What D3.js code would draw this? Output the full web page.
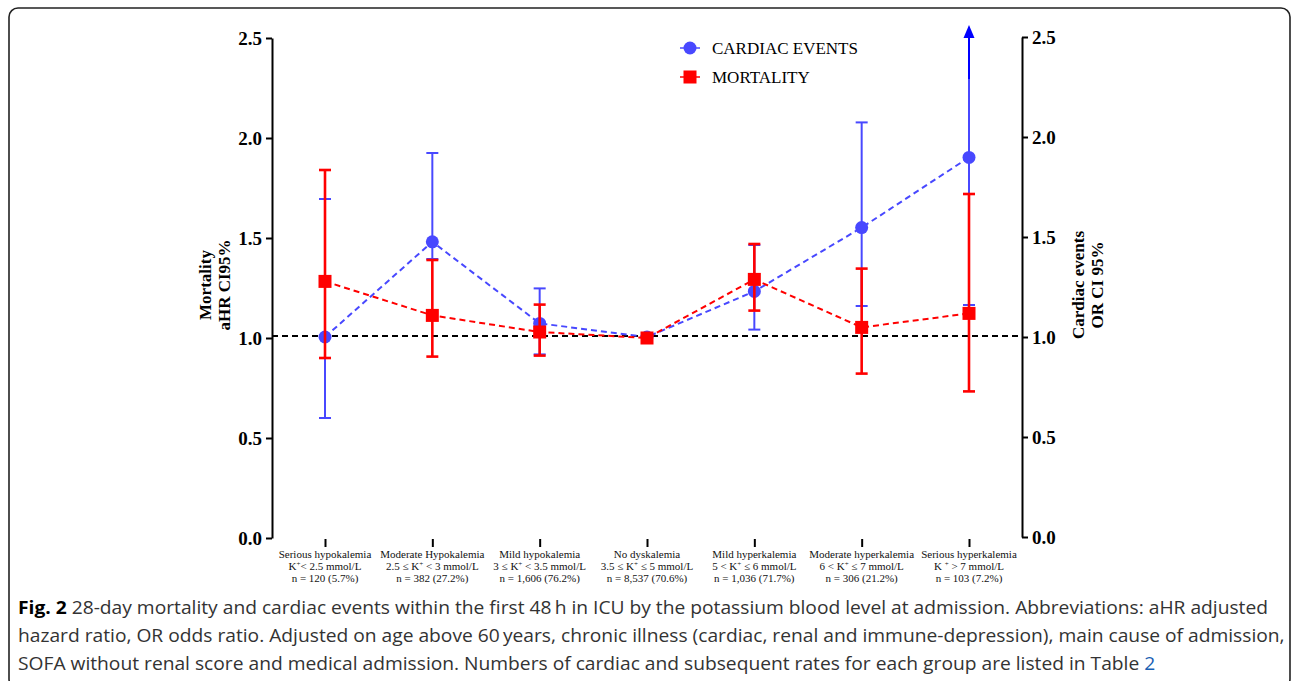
<!DOCTYPE html>
<html>
<head>
<meta charset="utf-8">
<script src="https://cdn.jsdelivr.net/npm/d3@7"></script>
<style>
  body{margin:0;background:#fff;}
  svg text{font-family:"Liberation Serif","Times New Roman",serif;}
</style>
</head>
<body>
<div id="chart"></div>
<script>
// categories (3 label lines each)
var categories = ["Serious hypokalemia","Moderate Hypokalemia","Mild hypokalemia","No dyskalemia","Mild hyperkalemia","Moderate hyperkalemia","Serious hyperkalemia"];
var ranges = [["K","+","< 2.5 mmol/L"],["2.5 ≤ K","+"," < 3 mmol/L"],["3 ≤ K","+"," < 3.5 mmol/L"],["3.5 ≤ K","+"," ≤ 5 mmol/L"],["5 < K","+"," ≤ 6 mmol/L"],["6 < K","+"," ≤ 7 mmol/L"],["K ","+"," > 7 mmol/L"]];
var counts = ["n = 120 (5.7%)","n = 382 (27.2%)","n = 1,606 (76.2%)","n = 8,537 (70.6%)","n = 1,036 (71.7%)","n = 306 (21.2%)","n = 103 (7.2%)"];

// cardiac events, OR (right axis)
var cardiac   = [1.00, 1.476, 1.068, 1.00, 1.228, 1.547, 1.898];
var cardiacLo = [0.595, 1.39, 0.913, null, 1.037, 1.155, 1.16];
var cardiacHi = [1.69, 1.92, 1.243, null, 1.46, 2.073, 3.0];

// mortality, aHR (left axis)
var mortality   = [1.283, 1.113, 1.03, 1.00, 1.293, 1.053, 1.123];
var mortalityLo = [0.90, 0.907, 0.912, null, 1.137, 0.822, 0.733];
var mortalityHi = [1.84, 1.39, 1.167, null, 1.47, 1.347, 1.72];

var yTicks = [0, 0.5, 1.0, 1.5, 2.0, 2.5];
var refLine = 1.0;

var W = 1292, H = 681;
var blue = "#4848ff", red = "#ff0000";

var svg = d3.select("#chart").append("svg")
  .attr("width", W).attr("height", H);

// frame
svg.append("rect")
  .attr("x", 9).attr("y", 8).attr("width", 1281).attr("height", 680)
  .attr("rx", 9).attr("fill", "none").attr("stroke", "#222").attr("stroke-width", 1.6);

var x = d3.scalePoint().domain(categories).range([325, 969]);
var yL = d3.scaleLinear().domain([0, 2.5]).range([538, 38]);
var yR = d3.scaleLinear().domain([0, 2.5]).range([537, 37]);

// axes
var axL = svg.append("g").attr("transform", "translate(272,0)")
  .call(d3.axisLeft(yL).tickValues(yTicks).tickFormat(d3.format(".1f")).tickSize(6).tickPadding(4).tickSizeOuter(0));
var axR = svg.append("g").attr("transform", "translate(1022,0)")
  .call(d3.axisRight(yR).tickValues(yTicks).tickFormat(d3.format(".1f")).tickSize(6).tickPadding(4).tickSizeOuter(0));
[axL, axR].forEach(function(a){
  a.attr("font-family", null);
  a.selectAll("path,line").attr("stroke", "#000").attr("stroke-width", 2);
  a.selectAll("text").attr("font-size", 19).attr("font-weight", "bold").attr("fill", "#000")
    .style("font-family", '"Liberation Serif",serif');
});

var axB = svg.append("g").attr("transform", "translate(0,539)")
  .call(d3.axisBottom(x).tickSize(8).tickFormat(""));
axB.select(".domain").remove();
axB.selectAll("line").attr("stroke", "#000").attr("stroke-width", 2);

// category labels
var lab = svg.append("g").attr("font-size", 11).attr("fill", "#111").attr("text-anchor", "middle");
categories.forEach(function(c, i){
  var cx = x(c);
  lab.append("text").attr("x", cx).attr("y", 558).text(c);
  var t = lab.append("text").attr("x", cx).attr("y", 570);
  t.append("tspan").text(ranges[i][0]);
  t.append("tspan").attr("font-size", 7).attr("dy", -4).text(ranges[i][1]);
  t.append("tspan").attr("dy", 4).text(ranges[i][2]);
  lab.append("text").attr("x", cx).attr("y", 582).text(counts[i]);
});

// axis titles
function vTitle(cx, lines){
  var g = svg.append("g").attr("font-size", 17).attr("font-weight", "bold").attr("text-anchor", "middle");
  lines.forEach(function(l, i){
    g.append("text").attr("transform", "translate(" + (cx + i * 19) + ",285) rotate(-90)").text(l);
  });
}
vTitle(211, ["Mortality", "aHR CI95%"]);
vTitle(1084, ["Cardiac events", "OR CI 95%"]);

// reference line
svg.append("line")
  .attr("x1", 272).attr("x2", 1022).attr("y1", yR(refLine) - 1).attr("y2", yR(refLine) - 1)
  .attr("stroke", "#000").attr("stroke-width", 2).attr("stroke-dasharray", "6,4");

var capW = 6;
function errorBars(vals, lo, hi, y, color, sw){
  var g = svg.append("g").attr("stroke", color).attr("stroke-width", sw);
  vals.forEach(function(v, i){
    if (lo[i] == null) return;
    var cx = x(categories[i]);
    var top = Math.min(hi[i], 2.5);
    g.append("line").attr("x1", cx).attr("x2", cx).attr("y1", y(lo[i])).attr("y2", y(top));
    g.append("line").attr("x1", cx - capW).attr("x2", cx + capW).attr("y1", y(lo[i])).attr("y2", y(lo[i]));
    if (hi[i] > 2.5) {
      // off-scale: arrow at top
      svg.append("path")
        .attr("d", "M" + (cx - 5.5) + "," + (y(2.5) + 1) + "L" + cx + "," + (y(2.5) - 12) + "L" + (cx + 5.5) + "," + (y(2.5) + 1) + "Z")
        .attr("fill", "#0000ff");
      g.append("line").attr("x1", cx).attr("x2", cx).attr("y1", y(2.5) + 42).attr("y2", y(2.5))
        .attr("stroke", "#0000ff");
    } else {
      g.append("line").attr("x1", cx - capW).attr("x2", cx + capW).attr("y1", y(hi[i])).attr("y2", y(hi[i]));
    }
  });
}

function seriesLine(vals, y, color){
  svg.append("path").datum(vals)
    .attr("d", d3.line().x(function(d, i){ return x(categories[i]); }).y(function(d){ return y(d); }))
    .attr("fill", "none").attr("stroke", color).attr("stroke-width", 2).attr("stroke-dasharray", "6,4");
}

// cardiac events
errorBars(cardiac, cardiacLo, cardiacHi, yR, blue, 2);
seriesLine(cardiac, yR, blue);
svg.append("g").selectAll("circle").data(cardiac).join("circle")
  .attr("cx", function(d, i){ return x(categories[i]); })
  .attr("cy", function(d){ return yR(d); })
  .attr("r", 6.5).attr("fill", blue);

// mortality
errorBars(mortality, mortalityLo, mortalityHi, yL, red, 2.6);
seriesLine(mortality, yL, red);
svg.append("g").selectAll("rect").data(mortality).join("rect")
  .attr("x", function(d, i){ return x(categories[i]) - 6.5; })
  .attr("y", function(d){ return yL(d) - 6.5; })
  .attr("width", 13).attr("height", 13).attr("fill", red);

// legend
var leg = svg.append("g");
leg.append("line").attr("x1", 680).attr("x2", 700).attr("y1", 48).attr("y2", 48).attr("stroke", blue).attr("stroke-width", 1.5);
leg.append("circle").attr("cx", 690).attr("cy", 48).attr("r", 6.5).attr("fill", blue);
leg.append("text").attr("x", 712).attr("y", 54).attr("font-size", 17).text("CARDIAC EVENTS");
leg.append("line").attr("x1", 680).attr("x2", 700).attr("y1", 77).attr("y2", 77).attr("stroke", red).attr("stroke-width", 1.5);
leg.append("rect").attr("x", 683.5).attr("y", 70.5).attr("width", 13).attr("height", 13).attr("fill", red);
leg.append("text").attr("x", 712).attr("y", 83).attr("font-size", 17).text("MORTALITY");

// caption, squeezed to the narrow look of the original
var capFont = '"Open Sans","Noto Sans",sans-serif';
var cap = svg.append("g").attr("font-size", 18).attr("fill", "#333");
var l1 = cap.append("text").attr("x", 18).attr("y", 614).style("font-family", capFont);
l1.append("tspan").attr("font-weight", "bold").attr("fill", "#000").text("Fig. 2");
l1.append("tspan").text(" 28-day mortality and cardiac events within the first 48\u2009h in ICU by the potassium blood level at admission. Abbreviations: aHR adjusted");
var l2 = cap.append("text").attr("x", 18).attr("y", 642).style("font-family", capFont)
  .text("hazard ratio, OR odds ratio. Adjusted on age above 60\u2009years, chronic illness (cardiac, renal and immune-depression), main cause of admission,");
var l3 = cap.append("text").attr("x", 18).attr("y", 670).style("font-family", capFont);
l3.append("tspan").text("SOFA without renal score and medical admission. Numbers of cardiac and subsequent rates for each group are listed in Table ");
l3.append("tspan").attr("fill", "#1a5fb4").text("2");

var k = 1250 / l1.node().getComputedTextLength();
[l1, l2, l3].forEach(function(t){
  t.attr("textLength", t.node().getComputedTextLength() * k).attr("lengthAdjust", "spacingAndGlyphs");
});
</script>
</body>
</html>
